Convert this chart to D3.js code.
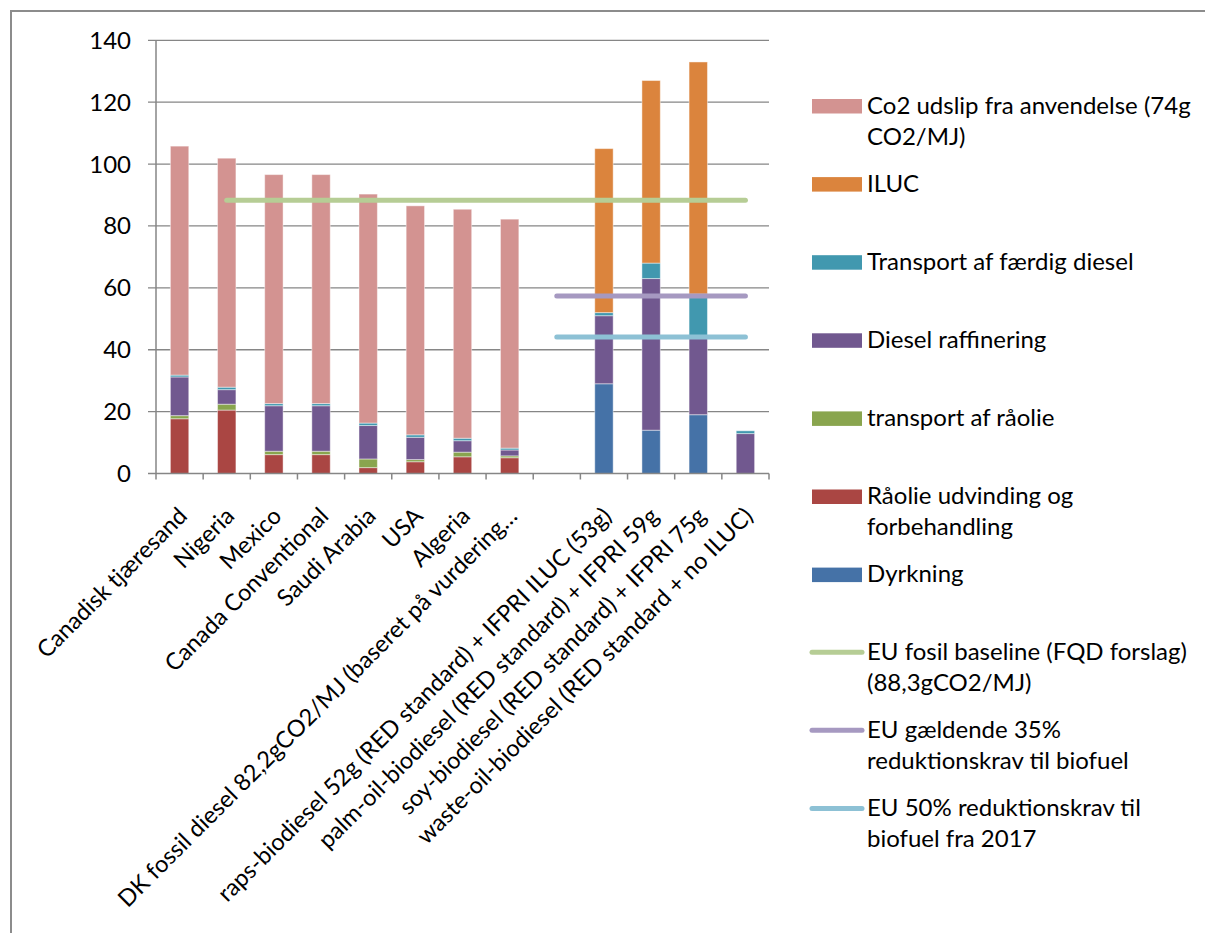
<!DOCTYPE html>
<html>
<head>
<meta charset="utf-8">
<script src="https://cdn.jsdelivr.net/npm/d3@7"></script>
<style>
  body { margin: 0; background: #fff; }
  svg text { font-family: Lato, "Liberation Sans", sans-serif; fill: #000; }
</style>
</head>
<body>
<svg id="chart" width="1205" height="933"></svg>
<script>
// categories (the empty one is a gap in the original chart)
const categories = [
  "Canadisk tjæresand", "Nigeria", "Mexico", "Canada Conventional", "Saudi Arabia",
  "USA", "Algeria", "DK fossil diesel 82,2gCO2/MJ (baseret på vurdering…", "",
  "raps-biodiesel 52g (RED standard) + IFPRI ILUC (53g)",
  "palm-oil-biodiesel (RED standard) + IFPRI 59g",
  "soy-biodiesel (RED standard) + IFPRI 75g",
  "waste-oil-biodiesel (RED standard + no ILUC)"
];

// stacked series, bottom to top
const dyrkning         = [0, 0, 0, 0, 0, 0, 0, 0, 0, 29, 14, 19, 0];
const raaolieUdvinding = [17.7, 20.5, 6.1, 6.1, 1.9, 3.8, 5.4, 5.1, 0, 0, 0, 0, 0];
const transportRaaolie = [1.0, 1.9, 1.1, 1.1, 2.8, 0.7, 1.5, 0.6, 0, 0, 0, 0, 0];
const raffinering      = [12.5, 4.7, 14.7, 14.7, 10.8, 7.2, 3.7, 1.9, 0, 22, 49, 25, 12.9];
const transportDiesel  = [0.6, 0.8, 0.7, 0.7, 0.8, 0.8, 0.8, 0.6, 0, 1, 5, 14, 0.9];
const iluc             = [0, 0, 0, 0, 0, 0, 0, 0, 0, 53, 59, 75, 0];
const co2Anvendelse    = [74, 74, 74, 74, 74, 74, 74, 74, 0, 0, 0, 0, 0];

// reference lines (null = no point)
const fossilBaseline = [null, 88.3, 88.3, 88.3, 88.3, 88.3, 88.3, 88.3, 88.3, 88.3, 88.3, 88.3, 88.3];
const krav35 = [null, null, null, null, null, null, null, null, 57.4, 57.4, 57.4, 57.4, 57.4];
const krav50 = [null, null, null, null, null, null, null, null, 44.15, 44.15, 44.15, 44.15, 44.15];

const yTicks = [0, 20, 40, 60, 80, 100, 120, 140];

const barSeries = [
  { key: "dyrkning", values: dyrkning, color: "#4572A7", label: ["Dyrkning"] },
  { key: "raaolie", values: raaolieUdvinding, color: "#AA4643", label: ["Råolie udvinding og", "forbehandling"] },
  { key: "transportRaaolie", values: transportRaaolie, color: "#89A54E", label: ["transport af råolie"] },
  { key: "raffinering", values: raffinering, color: "#71588F", label: ["Diesel raffinering"] },
  { key: "transportDiesel", values: transportDiesel, color: "#4198AF", label: ["Transport af færdig diesel"] },
  { key: "iluc", values: iluc, color: "#DB843D", label: ["ILUC"] },
  { key: "co2", values: co2Anvendelse, color: "#D39391", label: ["Co2 udslip fra anvendelse (74g", "CO2/MJ)"] }
];

const lineSeries = [
  { values: fossilBaseline, color: "#B6CD95", label: ["EU fosil baseline (FQD forslag)", "(88,3gCO2/MJ)"] },
  { values: krav35, color: "#A699C1", label: ["EU gældende 35%", "reduktionskrav til biofuel"] },
  { values: krav50, color: "#8DC1D5", label: ["EU 50% reduktionskrav til", "biofuel fra 2017"] }
];

const svg = d3.select("#chart");
const plotLeft = 156, plotRight = 769, plotTop = 40.3, plotBottom = 473.5;

// outer frame
svg.append("path")
  .attr("d", "M11,933V11H1205")
  .attr("fill", "none")
  .attr("stroke", "#8c8c8c")
  .attr("stroke-width", 2);

const x = d3.scaleBand()
  .domain(categories)
  .range([plotLeft, plotRight])
  .paddingInner(0.61)
  .paddingOuter(0.305);

const y = d3.scaleLinear()
  .domain([0, 140])
  .range([plotBottom, plotTop]);

// gridlines + y ticks
svg.append("g").selectAll("line")
  .data(yTicks.filter(d => d > 0))
  .join("line")
  .attr("x1", plotLeft - 8).attr("x2", plotRight)
  .attr("y1", d => y(d)).attr("y2", d => y(d))
  .attr("stroke", "#868686")
  .attr("stroke-width", 1.3);

svg.append("g").selectAll("text")
  .data(yTicks)
  .join("text")
  .attr("x", 131)
  .attr("y", d => y(d) + 8.5)
  .attr("text-anchor", "end")
  .style("font-size", "24px")
  .text(d => d);

// stacked bars
const rows = categories.map((c, i) => {
  const r = { cat: c };
  barSeries.forEach(s => r[s.key] = s.values[i]);
  return r;
});
const stacked = d3.stack().keys(barSeries.map(s => s.key))(rows);

svg.append("g").selectAll("g")
  .data(stacked)
  .join("g")
  .attr("fill", (d, i) => barSeries[i].color)
  .selectAll("rect")
  .data(d => d.filter(p => p[1] - p[0] > 0))
  .join("rect")
  .attr("x", d => x(d.data.cat))
  .attr("width", x.bandwidth())
  .attr("y", d => y(d[1]))
  .attr("height", d => y(d[0]) - y(d[1]))
  .attr("stroke", "rgba(255,255,255,0.45)")
  .attr("stroke-width", 1);

// axes lines
svg.append("line")
  .attr("x1", plotLeft).attr("x2", plotLeft)
  .attr("y1", plotTop).attr("y2", plotBottom)
  .attr("stroke", "#868686").attr("stroke-width", 1.5);
svg.append("line")
  .attr("x1", plotLeft - 8).attr("x2", plotRight)
  .attr("y1", plotBottom).attr("y2", plotBottom)
  .attr("stroke", "#868686").attr("stroke-width", 1.5);

// x ticks at band boundaries
const step = x.step();
svg.append("g").selectAll("line")
  .data(d3.range(categories.length + 1))
  .join("line")
  .attr("x1", i => plotLeft + i * step).attr("x2", i => plotLeft + i * step)
  .attr("y1", plotBottom).attr("y2", plotBottom + 6)
  .attr("stroke", "#868686").attr("stroke-width", 1.5);

// category labels, rotated
svg.append("g").selectAll("text")
  .data(categories)
  .join("text")
  .attr("text-anchor", "end")
  .attr("transform", d => `translate(${x(d) + x.bandwidth() / 2 + 9},${plotBottom + 44}) rotate(-45)`)
  .style("font-size", "23.5px")
  .text(d => d);

// reference lines
const line = d3.line()
  .defined(d => d.v !== null)
  .x(d => x(d.cat) + x.bandwidth() / 2)
  .y(d => y(d.v));

svg.append("g").selectAll("path")
  .data(lineSeries)
  .join("path")
  .attr("d", s => line(categories.map((c, i) => ({ cat: c, v: s.values[i] }))))
  .attr("fill", "none")
  .attr("stroke", s => s.color)
  .attr("stroke-width", 5)
  .attr("stroke-linecap", "round");

// legend
const legendItems = barSeries.slice().reverse().map(s => ({ type: "rect", color: s.color, label: s.label }))
  .concat(lineSeries.map(s => ({ type: "line", color: s.color, label: s.label })));

const lg = svg.append("g").selectAll("g")
  .data(legendItems)
  .join("g")
  .attr("transform", (d, i) => `translate(0,${113.5 + i * 78.1})`);

lg.filter(d => d.type === "rect").append("rect")
  .attr("x", 812).attr("y", -14.5)
  .attr("width", 50).attr("height", 14.5)
  .attr("fill", d => d.color);

lg.filter(d => d.type === "line").append("line")
  .attr("x1", 812).attr("x2", 862)
  .attr("y1", -8).attr("y2", -8)
  .attr("stroke", d => d.color)
  .attr("stroke-width", 5)
  .attr("stroke-linecap", "round");

lg.append("text")
  .style("font-size", "24px")
  .selectAll("tspan")
  .data(d => d.label)
  .join("tspan")
  .attr("x", 867)
  .attr("y", (d, i) => i * 31)
  .text(d => d);
</script>
</body>
</html>
